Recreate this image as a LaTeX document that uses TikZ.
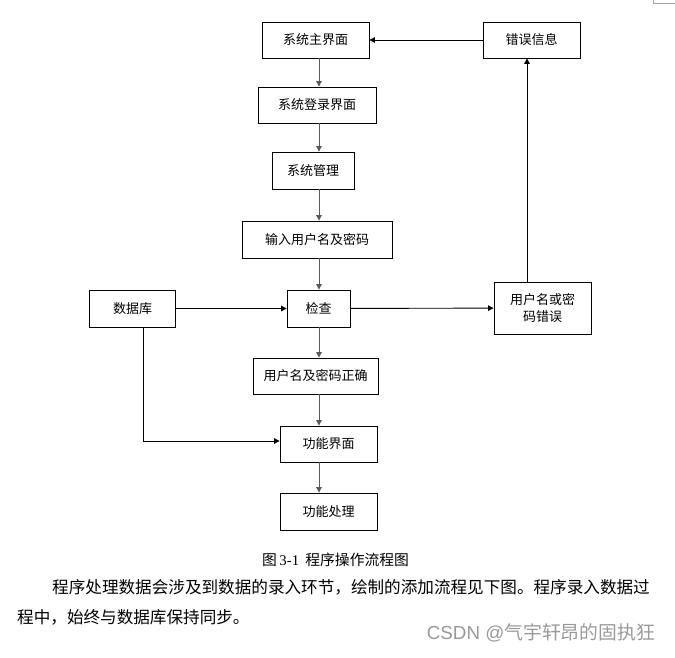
\documentclass[tikz,border=0pt]{standalone}
\usepackage{fontspec}
\setmainfont{Liberation Serif}
\newfontfamily\cjk{Noto Sans CJK SC}
\newfontfamily\wmfont{Liberation Sans}
\usetikzlibrary{arrows.meta,positioning,calc}
\tikzset{
  >={Triangle[length=5.5pt,width=5.5pt]},
  line/.style={line width=.9pt,draw=black!65},
  % 流程框
  box/.style={draw,line width=.8pt,fill=white,inner sep=2pt,align=center,
              font=\cjk\fontsize{13}{17}\selectfont},
  % 正文
  para/.style={anchor=west,inner sep=0pt,font=\cjk\fontsize{16.6}{20}\selectfont}
}

\begin{document}
\begin{tikzpicture}[x=1pt,y=-1pt]
  \useasboundingbox (0,0) rectangle (675,658);

  %--- 页角标记
  \draw[black!35,line width=.6pt] (653,0) -- (653,3) -- (675,3);

  %--- 主干
  \node[box,minimum width=107pt,minimum height=36pt] (main)  at (315.5,40)  {系统主界面};
  \node[box,minimum width=118pt,minimum height=36pt] (login) at (317,105)   {系统登录界面};
  \node[box,minimum width=82pt,minimum height=37pt]  (mgmt)  at (313,170.5) {系统管理};
  \node[box,minimum width=150pt,minimum height=37pt] (input) at (317,239.5) {输入用户名及密码};
  \node[box,minimum width=63pt,minimum height=37pt]  (check) at (318.5,308.5) {检查};
  \node[box,minimum width=125pt,minimum height=36pt] (ok)    at (315.5,376) {用户名及密码正确};
  \node[box,minimum width=97pt,minimum height=36pt]  (func)  at (328.5,444) {功能界面};
  \node[box,minimum width=97pt,minimum height=37pt]  (proc)  at (328.5,511.5) {功能处理};

  %--- 两侧
  \node[box,minimum width=86pt,minimum height=37pt]  (db)    at (132.5,308.5) {数据库};
  \node[box,minimum width=97pt,minimum height=52pt]  (wrong) at (542.5,308)  {用户名或密\\码错误};
  \node[box,minimum width=97pt,minimum height=36pt]  (err)   at (531.5,40)   {错误信息};

  %--- 连线的折点
  \coordinate (spine) at (319,0);
  \coordinate (errx)  at (527,0);
  \coordinate (dbx)   at (143,441);

  \foreach \a/\b in {main/login,login/mgmt,mgmt/input,input/check,check/ok,ok/func,func/proc}{
    \draw[line,->] (\a.south -| spine) -- (\b.north -| spine);
  }
  \draw[line,draw=black,->] (db) -- (check);
  \draw[line,draw=black,->] (check) -- (wrong);
  \draw[line,draw=black,->] (wrong.north -| errx) -- (err.south -| errx);
  \draw[line,draw=black,->] (err) -- (main);
  \draw[line,draw=black,->] (db.south -| dbx) -- (dbx) -- (func.west |- dbx);

  %--- 图题与正文
  \node[anchor=west,inner sep=0pt,font=\fontsize{14.8}{16}\selectfont] (cap) at (262,560)
    {{\cjk 图}\,3-1\, {\cjk 程序操作流程图}};
  \node[para] (p1) at (52,587) {程序处理数据会涉及到数据的录入环节，绘制的添加流程见下图。程序录入数据过};
  \node[para] (p2) at (17,617) {程中，始终与数据库保持同步。};

  %--- 水印
  \node[anchor=east,inner sep=0pt,text=black!40,font=\fontsize{18.8}{22}\selectfont] (wm) at (655,633)
    {\wmfont CSDN @{\cjk 气宇轩昂的固执狂}};
\end{tikzpicture}
\end{document}
